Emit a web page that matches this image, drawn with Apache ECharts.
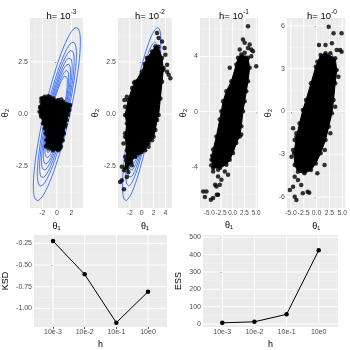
<!DOCTYPE html>
<html><head><meta charset="utf-8">
<script src="https://cdn.jsdelivr.net/npm/echarts@6/dist/echarts.min.js"></script>
<style>html,body{margin:0;padding:0;background:#fff}#c{width:350px;height:350px}</style>
</head><body><div id="c"></div>
<script>
// ---------- data ----------
const panelExponents = ['-3', '-2', '-1', '-0'];
const hLabels = ['10e-3', '10e-2', '10e-1', '10e0'];
const ksdValues = [-0.223, -0.608, -1.165, -0.808];
const essValues = [7, 13, 56, 425];

// density contours (theta2 half-height of each contour) and ellipse shape
const contourLevels = [4.15, 3.45, 3.05, 2.7, 2.4, 2.1, 1.85];
const contourShape = { sx: 0.78, rho: 0.83 };

// dense cores of the sample clouds (outline) and individual visible points
const core1 = [[-2.14,0.75],[-1.68,0.83],[-0.98,0.80],[-0.52,0.75],[0.18,0.67],[0.88,0.59],[1.36,0.48],[1.82,0.43],[1.72,0.19],[1.54,-0.05],[1.36,-0.29],[1.12,-0.61],[0.98,-0.93],[0.80,-1.25],[0.56,-1.57],[0.18,-1.73],[-0.52,-1.73],[-1.08,-1.65],[-1.44,-1.49],[-1.44,-1.25],[-1.54,-0.93],[-1.68,-0.69],[-1.92,-0.45],[-2.14,-0.13],[-2.38,0.11],[-2.28,0.35],[-2.14,0.59]];
const pts1 = [[-2.3,0.3],[-2.0,0.75],[1.75,0.4],[1.5,0.1],[-1.5,-1.55],[0.4,-1.65],[1.2,-0.5],[-1.2,0.85],[0.6,0.7],[-2.2,-0.05]];

const core2 = [[1.73,3.0],[2.29,3.24],[2.80,3.22],[3.42,2.68],[3.64,2.12],[3.42,1.55],[3.14,0.75],[2.85,-0.05],[2.58,-0.29],[2.29,-0.77],[2.0,-1.09],[1.15,-1.41],[0.59,-1.73],[-0.25,-1.83],[-1.10,-2.02],[-1.78,-2.31],[-2.46,-2.60],[-2.97,-2.69],[-2.63,-2.21],[-2.51,-1.73],[-2.80,-1.09],[-2.51,-0.45],[-2.80,-0.05],[-2.29,0.67],[-1.61,1.25],[-1.10,1.55],[0.03,2.03],[0.88,2.68]];
const pts2 = [[2.58,3.88],[2.85,3.64],[3.42,3.48],[3.86,3.16],[3.98,2.84],[4.27,2.36],[4.54,1.88],[4.83,1.72],[-3.36,-3.17],[-3.64,-3.25],[-2.51,-3.01],[-2.24,-2.77],[-1.66,-2.45],[-1.95,-2.21],[-1.10,-2.05],[-0.54,-1.89],[0.03,-1.81],[-3.36,-2.53],[-2.8,-2.05],[-3.08,-1.41],[-2.8,-0.92],[-2.92,0.67],[-2.51,0.83],[-2.8,0.35],[1.73,-1.25],[1.15,-1.57],[2.0,-0.61],[2.58,0.19],[2.85,1.0],[3.14,1.63],[3.69,2.2],[4.27,2.03],[-3.0,-3.6],[-1.3,1.5],[0.5,2.4]];

const core3 = [[1.83,4.15],[3.26,3.91],[3.62,3.18],[3.26,2.20],[2.89,1.48],[2.55,0.75],[2.19,0.02],[1.83,-1.07],[1.49,-1.80],[0.77,-2.28],[0.06,-3.0],[-0.64,-3.49],[-1.36,-3.85],[-2.70,-4.07],[-4.19,-4.09],[-4.55,-3.49],[-4.19,-2.76],[-3.49,-1.80],[-2.77,-0.58],[-2.43,0.02],[-2.06,0.75],[-1.36,1.48],[-0.30,2.20],[0.77,3.42],[1.13,3.91]];
const pts3 = [[3.26,6.2],[2.19,5.24],[2.55,5.0],[3.62,4.87],[3.26,4.63],[3.96,4.51],[1.49,4.51],[2.55,4.27],[4.32,4.39],[-0.64,3.18],[5.02,3.29],[3.96,4.02],[1.83,-1.67],[-4.19,-4.34],[-3.13,-4.22],[-1.70,-4.34],[-1.0,-4.58],[-3.13,-4.71],[-2.43,-4.95],[-2.77,-5.31],[-3.49,-5.43],[-3.13,-6.04],[-4.19,-6.28],[-6.32,-5.80],[-5.62,-5.80],[-5.96,-6.20],[-4.68,-6.40],[-3.77,-5.31],[-3.40,-6.04],[-4.6,-3.9],[-4.4,-3.2]];

const core4 = [[1.74,4.08],[3.62,3.73],[3.92,2.91],[3.62,1.98],[3.30,0.81],[2.98,-0.13],[2.36,-1.07],[1.74,-2.0],[0.79,-2.93],[-0.15,-3.64],[-1.09,-4.11],[-2.36,-4.34],[-3.62,-4.22],[-4.25,-3.75],[-4.38,-2.93],[-3.92,-1.77],[-3.30,-0.83],[-2.68,0.11],[-2.04,0.81],[-1.09,1.98],[-0.15,3.14],[0.79,3.96]];
const pts4 = [[2.36,5.95],[3.30,5.49],[4.87,5.49],[0.47,4.67],[1.74,4.67],[2.98,4.79],[3.92,4.32],[4.57,4.32],[4.87,4.2],[0.15,3.49],[2.68,4.08],[-5.19,-5.51],[-4.57,-5.28],[-4.25,-5.98],[-3.92,-6.21],[-2.68,-5.74],[-1.74,-5.63],[-1.42,-5.70],[-4.25,-4.58],[-3.62,-4.81],[-2.98,-5.16],[-4.57,-1.18],[-3.92,-1.53],[-4.25,-2.0],[1.55,-3.75],[0.15,-4.34],[1.6,-2.7],[-4.57,-2.7],[-4.87,-3.17],[4.25,2.44],[3.62,0.34],[2.68,-1.53]];

// axis ranges and tick values
const xRange = [[-3.7,3.6],[-4.0,5.1],[-7.0,5.4],[-5.75,5.6],[-0.6,3.6],[-0.6,3.6]];
const yRange = [[-4.5,4.6],[-4.5,4.6],[-7.0,6.8],[-6.77,6.56],[-1.215,-0.154],[-17,513]];
const xMajor = [[-2,0,2],[-2,0,2,4],[-5,-2.5,0,2.5,5],[-5,-2.5,0,2.5,5],[0,1,2,3],[0,1,2,3]];
const xMinor = [[-3,-1,1,3],[-3,-1,1,3,5],[-6.25,-3.75,-1.25,1.25,3.75],[-3.75,-1.25,1.25,3.75],[],[]];
const yMajor = [[-2.5,0,2.5],[-2.5,0,2.5],[-4,0,4],[-6,-3,0,3,6],[-1.0,-0.75,-0.5,-0.25],[0,100,200,300,400,500]];
const yMinor = [[-3.75,-1.25,1.25,3.75],[-3.75,-1.25,1.25,3.75],[-6,-2,2,6],[-4.5,-1.5,1.5,4.5],[-1.125,-0.875,-0.625,-0.375],[50,150,250,350,450]];

// ---------- layout ----------
const grids = [
  {left:30, top:18, width:53, height:190},
  {left:118, top:18, width:54, height:190},
  {left:200, top:18, width:58, height:190},
  {left:287, top:18, width:60, height:190},
  {left:32, top:235, width:135, height:92},
  {left:203, top:235, width:135, height:92}
];
const FONT = 'Liberation Sans';
const xFmt = [v=>String(v), v=>String(v), v=>v.toFixed(1), v=>v.toFixed(1), v=>hLabels[v], v=>hLabels[v]];
const yFmt = [v=>v.toFixed(1), v=>v.toFixed(1), v=>String(v), v=>String(v), v=>v.toFixed(2), v=>String(v)];
const xNames = ['θ₁','θ₁','θ₁','θ₁','h','h'];
const yNames = ['θ₂','θ₂','θ₂','θ₂','KSD','ESS'];
const yNameGap = [20, 18, 12, 14, 24, 20];
const xNameGap = [13, 13, 13, 13, 13, 13];
const xLabelSize = [7, 7, 6.3, 6.8, 7, 7];

const xAxis = grids.map((g,i)=>({
  type:'value', gridIndex:i, min:xRange[i][0], max:xRange[i][1],
  splitLine:{show:false}, axisLine:{show:false},
  axisTick:{show:true, customValues:xMajor[i], length:2, lineStyle:{color:'#333', width:0.8}},
  axisLabel:{customValues:xMajor[i], formatter:xFmt[i], fontSize:xLabelSize[i], color:'#4D4D4D', margin:2,
             fontFamily:FONT, hideOverlap:false, showMinLabel:true, showMaxLabel:true},
  name:xNames[i], nameLocation:'middle', nameGap:xNameGap[i],
  nameTextStyle:{fontSize:9, color:'#000', fontFamily:FONT}
}));
const yAxis = grids.map((g,i)=>({
  type:'value', gridIndex:i, min:yRange[i][0], max:yRange[i][1],
  splitLine:{show:false}, axisLine:{show:false},
  axisTick:{show:true, customValues:yMajor[i], length:2, lineStyle:{color:'#333', width:0.8}},
  axisLabel:{customValues:yMajor[i], formatter:yFmt[i], fontSize:7, color:'#4D4D4D', margin:2,
             fontFamily:FONT, hideOverlap:false},
  name:yNames[i], nameLocation:'middle', nameGap:yNameGap[i], nameRotate:90,
  nameTextStyle:{fontSize:9, color:'#000', fontFamily:FONT}
}));

function gridLineSeries(gi, vals, vertical, major){
  return {type:'custom', xAxisIndex:gi, yAxisIndex:gi, z:1, silent:true,
    data: vals.map(v=> vertical ? [v, yRange[gi][0]] : [xRange[gi][0], v]),
    renderItem:(params, api)=>{
      const cs = params.coordSys;
      const c = api.coord([api.value(0), api.value(1)]);
      const shape = vertical ? {x1:c[0], y1:cs.y, x2:c[0], y2:cs.y+cs.height}
                             : {x1:cs.x, y1:c[1], x2:cs.x+cs.width, y2:c[1]};
      return {type:'line', shape, style:{stroke: major ? '#FFFFFF' : '#F5F5F5', lineWidth: major ? 1 : 0.5}};
    }};
}
function ellipse(K){
  const pts=[]; const s=Math.sqrt(1-contourShape.rho*contourShape.rho);
  for(let i=0;i<=90;i++){const t=i/90*2*Math.PI;
    pts.push([K*contourShape.sx*Math.cos(t), K*(contourShape.rho*Math.cos(t)+s*Math.sin(t))]);}
  return pts;
}
function polySeries(gi, pts){
  return {type:'custom', xAxisIndex:gi, yAxisIndex:gi, z:3, silent:true, data:pts,
    renderItem:(params, api)=>{
      if(params.dataIndex!==0) return null;
      return {type:'polygon', shape:{points:pts.map(d=>api.coord(d))},
        style:{fill:'#000', stroke:'#000', lineWidth:1, lineJoin:'round'}};
    }};
}

const series = [];
grids.forEach((g,i)=>{
  series.push(gridLineSeries(i, xMinor[i], true, false));
  series.push(gridLineSeries(i, yMinor[i], false, false));
  series.push(gridLineSeries(i, xMajor[i], true, true));
  series.push(gridLineSeries(i, yMajor[i], false, true));
});
const cores = [core1, core2, core3, core4];
const pts = [pts1, pts2, pts3, pts4];
for(let i=0;i<4;i++){
  contourLevels.forEach(K=>{
    series.push({type:'line', xAxisIndex:i, yAxisIndex:i, z:2, silent:true, showSymbol:false, symbol:'none',
      data:ellipse(K), lineStyle:{color:'#3366FF', width:0.9}, animation:false});
  });
  series.push(polySeries(i, cores[i]));
  series.push({type:'scatter', xAxisIndex:i, yAxisIndex:i, z:4, silent:true, symbolSize:4.5,
    itemStyle:{color:'#000'}, data:pts[i].concat(cores[i])});
}
[[4, ksdValues],[5, essValues]].forEach(([gi, vals])=>{
  series.push({type:'line', xAxisIndex:gi, yAxisIndex:gi, z:4, silent:true, symbol:'circle', symbolSize:4.5,
    data: vals.map((v,k)=>[k, v]), lineStyle:{color:'#000', width:1}, itemStyle:{color:'#000'}});
});

const centers = [56.5, 145, 229, 317];
const title = panelExponents.map((e,i)=>({
  text: '{b|h= 10}{s|' + e + '}', left: centers[i], top: 4, textAlign: 'center',
  textStyle:{fontWeight:'normal',
    rich:{b:{fontSize:9.5, fontWeight:'normal', color:'#000', fontFamily:FONT, lineHeight:12, verticalAlign:'bottom'},
          s:{fontSize:6.5, fontWeight:'normal', color:'#000', fontFamily:FONT, lineHeight:12, verticalAlign:'top'}}}
}));

const chart = echarts.init(document.getElementById('c'), null, {renderer:'canvas'});
chart.setOption({
  animation:false, backgroundColor:'#FFFFFF',
  title,
  grid: grids.map(g=>Object.assign({backgroundColor:'#EBEBEB', show:true, borderWidth:0}, g)),
  xAxis, yAxis, series
});
</script></body></html>
